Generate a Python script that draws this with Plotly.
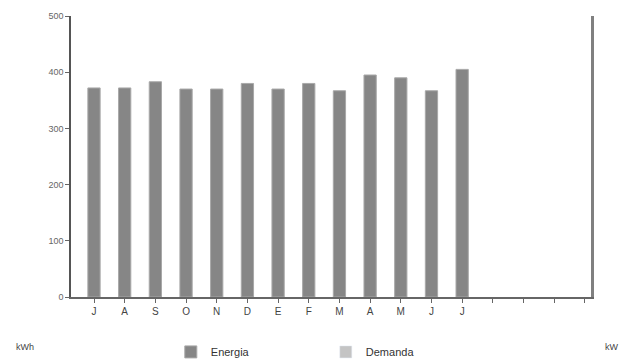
import plotly.graph_objects as go

months = ["J", "A", "S", "O", "N", "D", "E", "F", "M", "A", "M", "J", "J"]
extra_slots = ["", "", "", ""]
energia = [372, 372, 383, 370, 370, 380, 370, 380, 367, 395, 390, 367, 405]
demanda = [None] * 13
y_ticks = [0, 100, 200, 300, 400, 500]

tick_labels = months + extra_slots
positions = list(range(len(tick_labels)))
bar_x = positions[:len(months)]

fig = go.Figure()
fig.add_trace(go.Bar(
    x=bar_x, y=energia, name="Energia", width=0.4,
    marker=dict(color="#868686", line=dict(color="#a8a8a8", width=1)),
))
fig.add_trace(go.Bar(
    x=bar_x, y=demanda, name="Demanda", width=0.4, yaxis="y2",
    marker=dict(color="#c4c4c4"),
))

# the page adds an 8px body margin, so the figure is sized 8px smaller
font = dict(family="Liberation Sans, Arial, sans-serif", size=10, color="#555")
fig.update_layout(
    width=619, height=356,
    margin=dict(l=63, r=36, t=8, b=67, autoexpand=False),
    paper_bgcolor="white", plot_bgcolor="white",
    barmode="overlay",
    font=font,
    showlegend=True,
    legend=dict(orientation="h", x=0.49, xanchor="center",
                yref="container", y=0.034, yanchor="middle",
                font=dict(size=11, color="#333"), traceorder="normal",
                entrywidth=110, entrywidthmode="pixels"),
    xaxis=dict(
        range=[-0.75, 16.2], tickvals=positions, ticktext=tick_labels,
        showline=True, linecolor="#666", linewidth=1.5,
        ticks="outside", ticklen=4, tickcolor="#666",
        showgrid=False, zeroline=False, tickfont=dict(size=10, color="#444"),
    ),
    yaxis=dict(
        range=[0, 500], tickvals=y_ticks,
        showline=True, linecolor="#555", linewidth=1.5,
        ticks="outside", ticklen=4, tickcolor="#666",
        showgrid=False, zeroline=False, tickfont=dict(size=9, color="#666"),
    ),
    yaxis2=dict(
        overlaying="y", side="right", range=[0, 507],
        showline=True, linecolor="#808080", linewidth=2.5,
        showticklabels=False, showgrid=False, zeroline=False, ticks="",
    ),
    annotations=[
        dict(text="kWh", xref="paper", yref="paper", x=-0.088, y=-0.178,
             xanchor="center", yanchor="middle",
             showarrow=False, font=dict(size=9, color="#444")),
        dict(text="kW", xref="paper", yref="paper", x=1.04, y=-0.178,
             xanchor="center", yanchor="middle",
             showarrow=False, font=dict(size=9, color="#444")),
    ],
)

fig.write_html("out.html")
